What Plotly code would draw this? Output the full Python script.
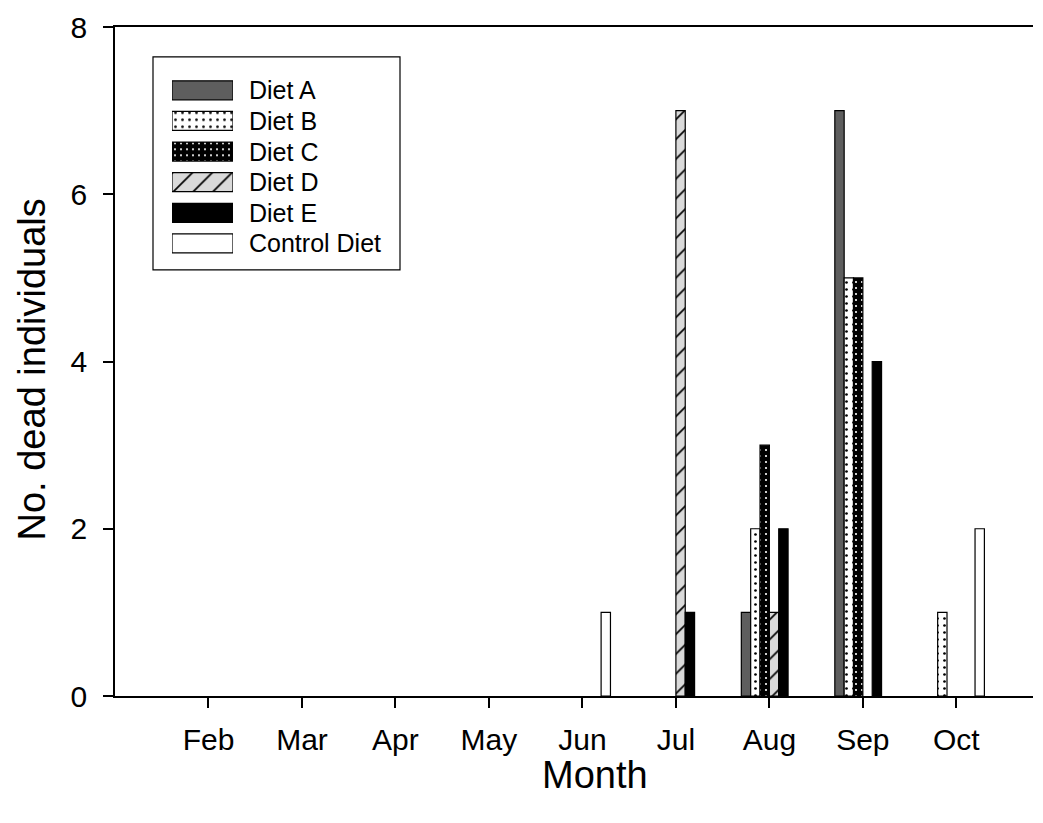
import plotly.graph_objects as go

months = ["Feb", "Mar", "Apr", "May", "Jun", "Jul", "Aug", "Sep", "Oct"]
diet_names = ["Diet A", "Diet B", "Diet C", "Diet D", "Diet E", "Control Diet"]
diet_a = [0, 0, 0, 0, 0, 0, 1, 7, 0]
diet_b = [0, 0, 0, 0, 0, 0, 2, 5, 1]
diet_c = [0, 0, 0, 0, 0, 0, 3, 5, 0]
diet_d = [0, 0, 0, 0, 0, 7, 1, 0, 0]
diet_e = [0, 0, 0, 0, 0, 1, 2, 4, 0]
control = [0, 0, 0, 0, 1, 0, 0, 0, 2]
series = [diet_a, diet_b, diet_c, diet_d, diet_e, control]

FONT = "Arial, Liberation Sans, sans-serif"
styles = [
    dict(color="#5e5e5e", pattern=None),
    dict(color="white", pattern=dict(shape=".", bgcolor="white", fgcolor="black", size=7, solidity=0.12, fillmode="replace")),
    dict(color="black", pattern=dict(shape=".", bgcolor="black", fgcolor="white", size=6, solidity=0.1, fillmode="replace")),
    dict(color="#dadada", pattern=dict(shape="/", bgcolor="#dadada", fgcolor="black", size=14, solidity=0.12, fillmode="replace")),
    dict(color="black", pattern=None),
    dict(color="white", pattern=None),
]

def marker_for(st):
    m = dict(color=st["color"], line=dict(color="black", width=1.2))
    if st["pattern"]:
        m["pattern"] = st["pattern"]
    return m

fig = go.Figure()
for name, vals, st in zip(diet_names, series, styles):
    fig.add_trace(go.Bar(
        x=months, y=[v if v else None for v in vals], name=name,
        marker=marker_for(st), showlegend=False,
    ))

# legend drawn as a small subplot with swatch bars
for name, st in zip(diet_names, styles):
    fig.add_trace(go.Bar(
        x=[1], y=[name], orientation="h", width=0.62, offsetgroup="legend",
        xaxis="x2", yaxis="y2", showlegend=False, hoverinfo="skip",
        marker=marker_for(st),
    ))

PL, PR, PT, PB = 115, 1033, 24, 696
def px(x):
    return (x - PL) / (PR - PL)
def py(y):
    return (PB - y) / (PB - PT)

annotations = []
for n in diet_names:
    annotations.append(dict(x=px(247), y=n, xref="paper", yref="y2", text=n,
                            showarrow=False, xanchor="left", yanchor="middle",
                            font=dict(family=FONT, size=25, color="black")))
annotations.append(dict(x=px(595), y=py(775), xref="paper", yref="paper", text="Month",
                        showarrow=False, xanchor="center", yanchor="middle",
                        font=dict(family=FONT, size=38, color="black")))
annotations.append(dict(x=px(32), y=py(368), xref="paper", yref="paper",
                        text="No. dead individuals", textangle=-90,
                        showarrow=False, xanchor="center", yanchor="middle",
                        font=dict(family=FONT, size=38, color="black")))

fig.update_layout(
    width=1043, height=823,
    margin=dict(l=PL, r=1043 - PR, t=PT, b=823 - PB),
    paper_bgcolor="white", plot_bgcolor="white",
    barmode="group", bargap=0.4, bargroupgap=0,
    font=dict(family=FONT, color="black"),
    xaxis=dict(type="category", range=[-1.0, 8.82], showline=True, linecolor="black",
               linewidth=1.5, mirror=True, ticks="outside", ticklen=10, tickwidth=1.5,
               tickcolor="black", showgrid=False, zeroline=False,
               tickfont=dict(family=FONT, size=30), ticklabelstandoff=6),
    yaxis=dict(range=[0, 8], dtick=2, showline=True, linecolor="black", linewidth=1.5,
               ticks="outside", ticklen=10, tickwidth=1.5, tickcolor="black",
               showgrid=False, zeroline=False, tickfont=dict(family=FONT, size=30),
               ticklabelstandoff=10),
    xaxis2=dict(domain=[px(172), px(233)], range=[0, 1], anchor="y2", visible=False,
                fixedrange=True),
    yaxis2=dict(domain=[py(257.5), py(71.5)], anchor="x2", visible=False,
                type="category", categoryarray=diet_names, autorange="reversed",
                fixedrange=True),
    shapes=[dict(type="rect", xref="paper", yref="paper", x0=px(153), x1=px(400),
                 y0=py(268), y1=py(54), line=dict(color="black", width=1.2),
                 fillcolor="rgba(0,0,0,0)", layer="below")],
    annotations=annotations,
)

fig.write_html("out.html")
